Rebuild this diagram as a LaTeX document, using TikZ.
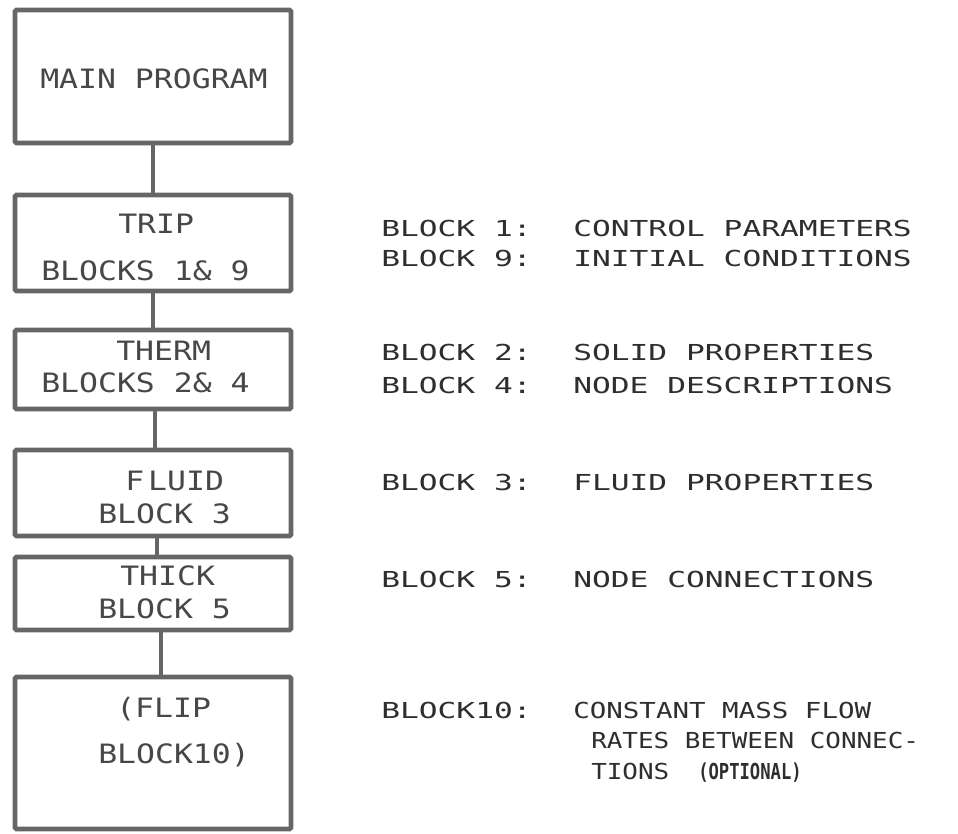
\documentclass[tikz,border=0pt]{standalone}
\usepackage{fontspec}
\usepackage{graphicx}
% typewriter-like lettering for the boxes and the notes
\newfontfamily\boxfont[FakeStretch=1.18]{DejaVu Sans Mono}
\newfontfamily\notefont[FakeStretch=1.42]{DejaVu Sans Mono}
\begin{document}
\begin{tikzpicture}[x=0.75pt,y=-0.75pt,
  blk/.style={draw=black!60, line width=3.4pt, rounded corners=1pt,
    minimum width=207pt, inner sep=0pt},
  link/.style={draw=black!60, line width=3.4pt},
  boxtxt/.style={anchor=base west, inner sep=0pt, text=black!72,
    font=\boxfont\fontsize{20}{24}\selectfont},
  note/.style={anchor=base west, inner sep=0pt, text=black!82,
    font=\notefont\fontsize{16.5}{20}\selectfont}]
\useasboundingbox (0,0) rectangle (958,833);

% program units
\node[blk, minimum height=99.75pt] (main)  at (153,76.5) {};
\node[blk, minimum height=72pt]    (trip)  at (153,243)  {};
\node[blk, minimum height=59.25pt] (therm) at (153,369.5) {};
\node[blk, minimum height=64.5pt]  (fluid) at (153,493)  {};
\node[blk, minimum height=54.75pt] (thick) at (153,593.5) {};
\node[blk, minimum height=114pt]   (flip)  at (153,753)  {};

% calling sequence
\draw[link] (main.south) -- (trip.north);
\draw[link] (trip.south) -- (therm.north);
\draw[link] ([xshift=1.5pt]therm.south) -- ([xshift=1.5pt]fluid.north);
\draw[link] ([xshift=3pt]fluid.south) -- ([xshift=3pt]thick.north);
\draw[link] ([xshift=6pt]thick.south) -- ([xshift=6pt]flip.north);

% box captions
\node[boxtxt] (tmain)  at (40,88)   {MAIN PROGRAM};
\node[boxtxt] (ttrip)  at (118,233) {TRIP};
\node[boxtxt] (btrip)  at (41,280)  {BLOCKS 1\& 9};
\node[boxtxt] (ttherm) at (116,360) {THERM};
\node[boxtxt] (btherm) at (41,392)  {BLOCKS 2\& 4};
\node[boxtxt] (tfluid) at (125,490) {F\kern3pt LUID};
\node[boxtxt] (bfluid) at (98,523)  {BLOCK 3};
\node[boxtxt] (tthick) at (120,585) {THICK};
\node[boxtxt] (bthick) at (98,618)  {BLOCK 5};
\node[boxtxt] (tflip)  at (116,717) {(FLIP};
\node[boxtxt] (bflip)  at (98,763)  {BLOCK10)};

% block descriptions
\node[note] (k1) at (381,236) {BLOCK 1:};
\node[note] (d1) at (573,236) {CONTROL PARAMETERS};
\node[note] (k9) at (381,266) {BLOCK 9:};
\node[note] (d9) at (573,266) {INITIAL CONDITIONS};
\node[note] (k2) at (381,360) {BLOCK 2:};
\node[note] (d2) at (573,360) {SOLID PROPERTIES};
\node[note] (k4) at (381,393) {BLOCK 4:};
\node[note] (d4) at (573,393) {NODE DESCRIPTIONS};
\node[note] (k3) at (381,490) {BLOCK 3:};
\node[note] (d3) at (573,490) {FLUID PROPERTIES};
\node[note] (k5) at (381,587) {BLOCK 5:};
\node[note] (d5) at (573,587) {NODE CONNECTIONS};
\node[note] (k10) at (381,718) {BLOCK10:};
\node[note] (d10a) at (573,718) {\scalebox{0.88}[1]{CONSTANT MASS FLOW}};
\node[note] (d10b) at (591,748) {\scalebox{0.83}[1]{RATES BETWEEN CONNEC-}};
\node[note] (d10c) at (591,779) {\scalebox{0.83}[1]{TIONS}};
\node[note] (d10d) at (698,779) {\scalebox{0.55}[1]{\bfseries (OPTIONAL)}};
\end{tikzpicture}
\end{document}
